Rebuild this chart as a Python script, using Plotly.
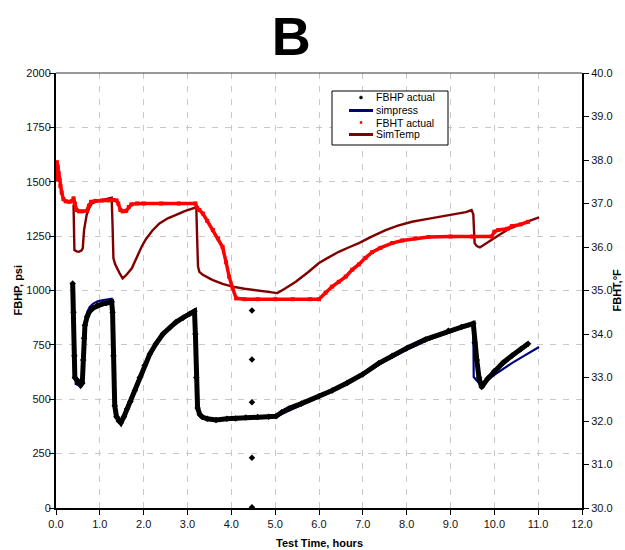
import plotly.graph_objects as go

# Bottom-hole pressure, measured (hours, psi)
fbhp_time = [0.38, 0.40, 0.42, 0.43, 0.47, 0.52, 0.56, 0.60, 0.62, 0.64, 0.66, 0.71, 0.77, 0.85,
             0.95, 1.05, 1.15, 1.27, 1.29, 1.31, 1.34, 1.38, 1.43, 1.48, 1.55, 1.62, 1.70, 1.80,
             1.91, 2.02, 2.14, 2.28, 2.44, 2.60, 2.74, 2.90, 3.05, 3.16, 3.18, 3.20, 3.23, 3.28,
             3.34, 3.45, 3.65, 3.90, 4.10, 4.33, 4.60, 4.85, 5.02, 5.15, 5.32, 5.60, 6.00, 6.30,
             6.64, 7.00, 7.36, 7.67, 8.00, 8.43, 8.95, 9.25, 9.52, 9.55, 9.60, 9.65, 9.71, 9.85,
             10.00, 10.20, 10.40, 10.60, 10.77]
fbhp_psi = [1032, 900, 700, 600, 590, 580, 565, 575, 680, 780, 840, 880, 905, 920,
            932, 938, 942, 948, 900, 700, 470, 420, 400, 392, 420, 455, 490, 540,
            600, 655, 708, 755, 800, 830, 855, 875, 893, 905, 800, 600, 460, 430,
            418, 410, 405, 410, 412, 416, 418, 420, 422, 440, 458, 480, 514, 540,
            575, 615, 665, 700, 735, 775, 815, 832, 848, 760, 680, 600, 556, 595,
            630, 668, 700, 730, 755]

# isolated gauge readings around 4.5 h
fbhp_spike_time = [4.47, 4.47, 4.47, 4.47, 4.47]
fbhp_spike_psi = [908, 683, 486, 231, 3]

# Simulated bottom-hole pressure (hours, psi)
sim_time = [0.41, 0.42, 0.45, 0.52, 0.58, 0.60, 0.62, 0.64, 0.66, 0.71, 0.77, 0.85, 0.95, 1.05,
            1.15, 1.27, 1.29, 1.31, 1.34, 1.38, 1.43, 1.48, 1.55, 1.62, 1.70, 1.80, 1.91, 2.02,
            2.14, 2.28, 2.44, 2.60, 2.74, 2.90, 3.05, 3.16, 3.18, 3.20, 3.23, 3.28, 3.34, 3.45,
            3.65, 3.90, 4.10, 4.33, 4.60, 4.85, 5.02, 5.15, 5.32, 5.60, 6.00, 6.30, 6.64, 7.00,
            7.36, 7.67, 8.00, 8.43, 8.95, 9.25, 9.52, 9.53, 9.71, 9.85, 10.00, 10.20, 10.40,
            10.60, 10.80, 11.02]
sim_psi = [1000, 700, 570, 565, 560, 575, 690, 790, 850, 900, 925, 940, 950, 955,
           958, 962, 900, 650, 460, 420, 400, 395, 425, 462, 500, 550, 608, 662,
           712, 760, 803, 835, 860, 880, 898, 912, 800, 600, 450, 425, 415, 410,
           408, 410, 412, 414, 416, 418, 420, 432, 448, 475, 510, 537, 572, 610,
           658, 692, 727, 768, 808, 828, 842, 602, 560, 588, 612, 640, 666,
           690, 715, 740]

# Bottom-hole temperature, measured (hours, deg F)
fbht_time = [0.00, 0.02, 0.04, 0.06, 0.08, 0.10, 0.13, 0.17, 0.22, 0.30, 0.36, 0.40, 0.43, 0.47,
             0.52, 0.60, 0.70, 0.75, 0.80, 0.90, 1.05, 1.20, 1.30, 1.38, 1.42, 1.47, 1.52, 1.60,
             1.66, 1.72, 1.85, 2.00, 2.40, 2.80, 3.18, 3.22, 3.27, 3.35, 3.45, 3.58, 3.70, 3.80,
             3.88, 3.95, 4.03, 4.11, 4.30, 4.60, 5.00, 5.40, 5.80, 6.00, 6.15, 6.30, 6.45, 6.61,
             6.76, 6.91, 7.06, 7.21, 7.40, 7.67, 7.90, 8.20, 8.50, 9.00, 9.50, 9.94, 10.00, 10.09,
             10.30, 10.40, 10.60, 10.77]
fbht_degf = [37.55, 37.95, 37.85, 37.70, 37.55, 37.40, 37.25, 37.10, 37.05, 37.04, 37.05, 37.12, 37.00, 36.85,
             36.82, 36.82, 36.83, 36.95, 37.04, 37.06, 37.07, 37.07, 37.08, 37.07, 37.00, 36.85, 36.82, 36.83,
             36.92, 36.98, 37.00, 37.00, 37.00, 37.00, 37.00, 36.90, 36.85, 36.77, 36.60, 36.39, 36.20, 36.00,
             35.65, 35.32, 35.05, 34.82, 34.80, 34.80, 34.80, 34.80, 34.80, 34.80, 34.95, 35.09, 35.20, 35.32,
             35.48, 35.60, 35.75, 35.88, 35.98, 36.09, 36.15, 36.20, 36.23, 36.24, 36.24, 36.24, 36.35, 36.39,
             36.42, 36.48, 36.52, 36.58]

# Simulated bottom-hole temperature (hours, deg F)
simtemp_time = [0.40, 0.42, 0.47, 0.52, 0.58, 0.61, 0.64, 0.67, 0.70, 0.76, 0.82, 0.93, 1.05, 1.17,
                1.27, 1.29, 1.31, 1.35, 1.39, 1.45, 1.52, 1.60, 1.73, 1.85, 1.95, 2.05, 2.20, 2.36,
                2.55, 2.74, 2.95, 3.16, 3.20, 3.22, 3.24, 3.27, 3.35, 3.50, 3.58, 3.80, 4.03, 4.30,
                4.56, 4.80, 5.05, 5.20, 5.47, 5.75, 6.00, 6.20, 6.45, 6.70, 6.91, 7.20, 7.52, 7.80,
                8.12, 8.45, 8.80, 9.18, 9.35, 9.48, 9.52, 9.55, 9.60, 9.67, 9.80, 9.94, 10.10, 10.32,
                10.60, 10.80, 11.02]
simtemp_degf = [36.97, 35.93, 35.90, 35.89, 35.92, 35.97, 36.39, 36.60, 36.74, 36.90, 37.00, 37.05, 37.08, 37.10,
                37.13, 36.50, 35.74, 35.60, 35.51, 35.40, 35.28, 35.35, 35.51, 35.78, 36.00, 36.18, 36.38, 36.54,
                36.66, 36.74, 36.83, 36.90, 36.93, 36.20, 35.55, 35.43, 35.36, 35.28, 35.24, 35.15, 35.09, 35.04,
                35.00, 34.97, 34.94, 35.03, 35.20, 35.42, 35.63, 35.75, 35.89, 36.00, 36.09, 36.24, 36.39, 36.49,
                36.58, 36.64, 36.70, 36.77, 36.80, 36.85, 36.75, 36.09, 36.02, 35.99, 36.08, 36.16, 36.27, 36.41,
                36.53, 36.60, 36.68]

x_ticks = list(range(0, 13))
psi_ticks = [0, 250, 500, 750, 1000, 1250, 1500, 1750, 2000]
degf_ticks = [30 + i for i in range(0, 11)]

legend_names = ["FBHP actual", "simpress", "FBHT actual", "SimTemp"]
x_title = "Test Time, hours"
y_title = "FBHP, psi"
y2_title = "FBHT,°F"

FONT = "Liberation Sans, Arial, sans-serif"
BLACK = "#000000"
NAVY = "#000080"
RED = "#FF0000"
MAROON = "#800000"
GRID = "#C8C8C8"

W, H = 625, 550
ML, MR, MT, MB = 56, 43, 73, 42
PW, PH = W - ML - MR, H - MT - MB


def px(xp):
    """page pixel column -> paper x"""
    return (xp - ML) / PW


def py(yp):
    """page pixel row -> paper y"""
    return (H - MB - yp) / PH


fig = go.Figure()

# pressure traces on the left axis
fig.add_trace(go.Scatter(x=sim_time, y=sim_psi, mode="lines", name=legend_names[1],
                         line=dict(color=NAVY, width=2.2)))
fig.add_trace(go.Scatter(x=fbhp_time, y=fbhp_psi, mode="lines+markers", name=legend_names[0],
                         line=dict(color=BLACK, width=5),
                         marker=dict(symbol="diamond", size=5, color=BLACK)))
fig.add_trace(go.Scatter(x=fbhp_spike_time, y=fbhp_spike_psi, mode="markers", name=legend_names[0],
                         marker=dict(symbol="diamond", size=5, color=BLACK)))

# temperature traces on the right axis
fig.add_trace(go.Scatter(x=simtemp_time, y=simtemp_degf, mode="lines", name=legend_names[3],
                         yaxis="y2", line=dict(color=MAROON, width=2.4)))
fig.add_trace(go.Scatter(x=fbht_time, y=fbht_degf, mode="lines+markers", name=legend_names[2],
                         yaxis="y2", line=dict(color=RED, width=3.5),
                         marker=dict(symbol="square", size=4, color=RED)))

# compact legend box drawn in paper space
box_x0, box_x1, box_y0, box_y1 = 332, 448, 91, 145
row_y = [97.5, 110.5, 122.5, 134.5]
sym_x0, sym_x1, text_x = 349, 373, 374

shapes = [
    dict(type="line", xref="paper", yref="paper", x0=0, x1=1, y0=1, y1=1,
         line=dict(color="#333333", width=1)),
    dict(type="rect", xref="paper", yref="paper",
         x0=px(box_x0), x1=px(box_x1), y0=py(box_y1), y1=py(box_y0),
         line=dict(color=BLACK, width=1), fillcolor="white", layer="above"),
    dict(type="line", xref="paper", yref="paper",
         x0=px(sym_x0), x1=px(sym_x1), y0=py(row_y[1]), y1=py(row_y[1]),
         line=dict(color=NAVY, width=3), layer="above"),
    dict(type="line", xref="paper", yref="paper",
         x0=px(sym_x0), x1=px(sym_x1), y0=py(row_y[3]), y1=py(row_y[3]),
         line=dict(color=MAROON, width=3), layer="above"),
    dict(type="circle", xref="paper", yref="paper",
         x0=px(359.5), x1=px(362.5), y0=py(row_y[0] + 1.5), y1=py(row_y[0] - 1.5),
         line=dict(color=BLACK, width=0.5), fillcolor=BLACK, layer="above"),
    dict(type="rect", xref="paper", yref="paper",
         x0=px(360), x1=px(362), y0=py(row_y[2] + 1), y1=py(row_y[2] - 1),
         line=dict(color=RED, width=0.5), fillcolor=RED, layer="above"),
]

title_font = dict(family=FONT, size=11, color=BLACK)
annotations = [
    dict(text=name, xref="paper", yref="paper", x=px(text_x), y=py(ry),
         xanchor="left", yanchor="middle", showarrow=False,
         font=dict(family=FONT, size=10.5, color=BLACK))
    for name, ry in zip(legend_names, row_y)
]
# axis titles
annotations += [
    dict(text=f"<b>{x_title}</b>", xref="paper", yref="paper", x=0.5, y=py(543),
         xanchor="center", yanchor="middle", showarrow=False, font=title_font),
    dict(text=f"<b>{y_title}</b>", xref="paper", yref="paper", x=px(17), y=0.5,
         xanchor="center", yanchor="middle", showarrow=False, textangle=-90, font=title_font),
    dict(text=f"<b>{y2_title}</b>", xref="paper", yref="paper", x=px(616), y=0.5,
         xanchor="center", yanchor="middle", showarrow=False, textangle=-90, font=title_font),
]

axis_font = dict(family=FONT, size=11, color="#111111")
common = dict(showline=True, linecolor=BLACK, linewidth=2,
              ticks="outside", ticklen=5, tickcolor=BLACK, tickwidth=1,
              zeroline=False, tickfont=axis_font, automargin=False)

fig.update_layout(
    width=W, height=H,
    margin=dict(l=ML, r=MR, t=MT, b=MB, pad=0),
    paper_bgcolor="white", plot_bgcolor="white",
    font=dict(family=FONT, color=BLACK),
    showlegend=False,
    title=dict(text="<b>B</b>", font=dict(family=FONT, size=54, color=BLACK),
               x=0.466, xanchor="center", xref="container",
               y=0.935, yanchor="middle", yref="container"),
    xaxis=dict(range=[0, 12], tickvals=x_ticks, tickformat=".1f",
               showgrid=True, gridcolor=GRID, gridwidth=1, griddash="6px,7px",
               **common),
    yaxis=dict(range=[0, 2000], tickvals=psi_ticks, ticklabelstandoff=-4,
               showgrid=True, gridcolor=GRID, gridwidth=1, griddash="6px,7px",
               **common),
    yaxis2=dict(range=[30, 40], tickvals=degf_ticks, tickformat=".1f",
                overlaying="y", side="right", showgrid=False,
                **common),
    shapes=shapes,
    annotations=annotations,
)

fig.write_html("out.html")
